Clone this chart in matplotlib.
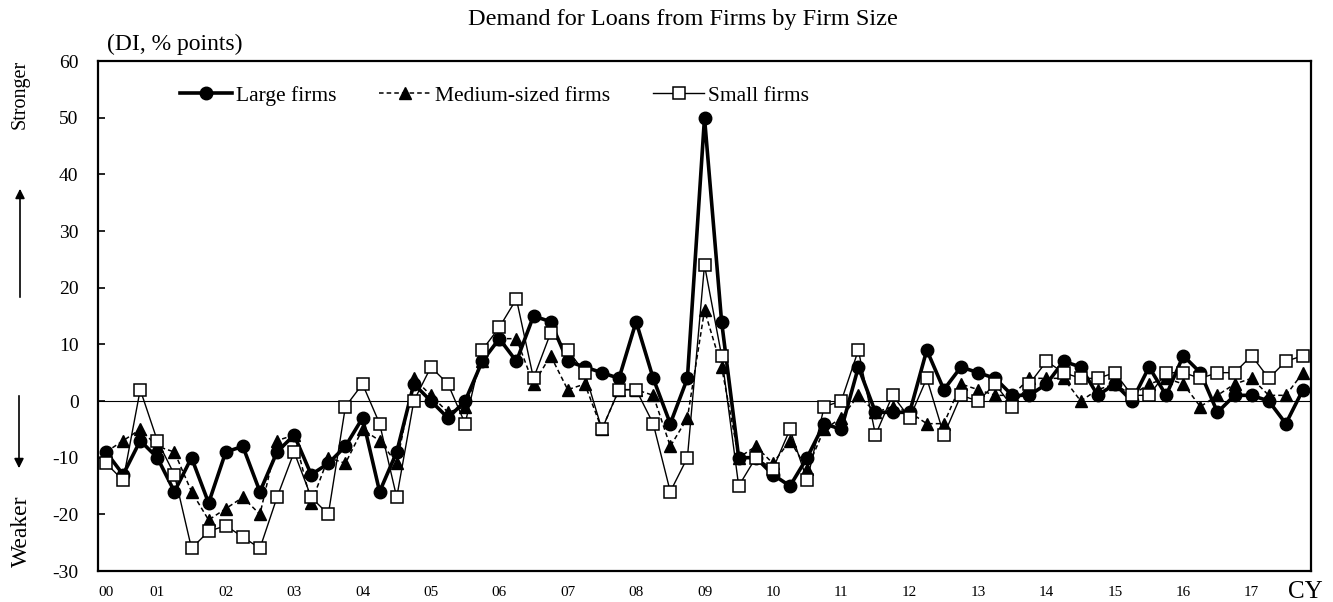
import matplotlib
matplotlib.use("Agg")
import matplotlib.pyplot as plt
import numpy as np

plt.rcParams['font.family'] = ['Liberation Serif', 'DejaVu Serif']
plt.rcParams['axes.unicode_minus'] = False

# ---- data (quarterly surveys, 2000 Apr .. 2017 Oct) ----
large = [-9, -13, -7, -10, -16, -10, -18, -9, -8, -16, -9, -6, -13, -11, -8, -3,
         -16, -9, 3, 0, -3, 0, 7, 11, 7, 15, 14, 7, 6, 5, 4, 14,
         4, -4, 4, 50, 14, -10, -10, -13, -15, -10, -4, -5, 6, -2,
         -2, -2, 9, 2, 6, 5, 4, 1, 1, 3, 7, 6, 1, 3, 0, 6,
         1, 8, 5, -2, 1, 1, 0, -4, 2]
medium = [-9, -7, -5, -8, -9, -16, -21, -19, -17, -20, -7, -6, -18, -10, -11, -5,
          -7, -11, 4, 1, -2, -1, 7, 11, 11, 3, 8, 2, 3, -5, 2, 2,
          1, -8, -3, 16, 6, -10, -8, -11, -7, -12, -5, -3, 1, -2,
          -1, -2, -4, -4, 3, 2, 1, 1, 4, 4, 4, 0, 2, 3, 1, 3,
          4, 3, -1, 1, 3, 4, 1, 1, 5]
small = [-11, -14, 2, -7, -13, -26, -23, -22, -24, -26, -17, -9, -17, -20, -1, 3,
         -4, -17, 0, 6, 3, -4, 9, 13, 18, 4, 12, 9, 5, -5, 2, 2,
         -4, -16, -10, 24, 8, -15, -10, -12, -5, -14, -1, 0, 9, -6,
         1, -3, 4, -6, 1, 0, 3, -1, 3, 7, 5, 4, 4, 5, 1, 1,
         5, 5, 4, 5, 5, 8, 4, 7, 8]
year_labels = ["00", "01", "02", "03", "04", "05", "06", "07", "08", "09",
               "10", "11", "12", "13", "14", "15", "16", "17"]
series_names = ["Large firms", "Medium-sized firms", "Small firms"]

W, H = 1333, 602
fig = plt.figure(figsize=(W / 100, H / 100), dpi=100)
ax = fig.add_axes([98 / W, 1 - 571 / H, (1311 - 98) / W, (571 - 61) / H])

x = np.arange(len(large))
ax.plot(x, large, color='black', lw=2.6, marker='o', ms=9,
        mfc='black', mec='black', label=series_names[0], zorder=3)
ax.plot(x, medium, color='black', lw=1.1, ls=(0, (3, 2)), marker='^', ms=8.5,
        mfc='black', mec='black', label=series_names[1], zorder=4)
ax.plot(x, small, color='black', lw=1.0, marker='s', ms=9,
        mfc='white', mec='black', mew=1.1, label=series_names[2], zorder=5)

ax.axhline(0, color='black', lw=0.8, zorder=2)

ax.set_xlim(-0.47, len(large) - 1 + 0.47)
ax.set_ylim(-30, 60)
ax.set_yticks(np.arange(-30, 61, 10))

# year labels at January surveys (first label at first point)
xt = [0] + [3 + 4 * k for k in range(len(year_labels) - 1)]
ax.set_xticks(xt)
ax.set_xticklabels(year_labels, fontsize=11)
ax.tick_params(axis='x', length=0, pad=11)
ax.tick_params(axis='y', direction='in', length=5, width=1.2, labelsize=14, pad=14)

for s in ax.spines.values():
    s.set_linewidth(1.6)

leg = ax.legend(loc='center left', bbox_to_anchor=(180 / W, 1 - 96 / H),
                bbox_transform=fig.transFigure, ncol=3, frameon=False,
                fontsize=15.5, handlelength=2.4, handletextpad=0.18,
                columnspacing=2.0, borderpad=0, borderaxespad=0)

fig.text(683 / W, 1 - 20 / H, "Demand for Loans from Firms by Firm Size",
         ha='center', va='center', fontsize=17.5)
fig.text(107 / W, 1 - 44 / H, "(DI, % points)", ha='left', va='center', fontsize=17)
fig.text(1305 / W, 1 - 592 / H, "CY", ha='center', va='center', fontsize=18)

fig.text(20 / W, 1 - 94 / H, "Stronger", rotation=90, ha='center', va='center', fontsize=14.5)
fig.text(21 / W, 1 - 531 / H, "Weaker", rotation=90, ha='center', va='center', fontsize=17)
ax.annotate("", xy=(20 / W, 1 - 186 / H), xytext=(20 / W, 1 - 300 / H),
            xycoords='figure fraction', textcoords='figure fraction',
            arrowprops=dict(arrowstyle='-|>', color='black', lw=1.2, mutation_scale=14))
ax.annotate("", xy=(19 / W, 1 - 471 / H), xytext=(19 / W, 1 - 393 / H),
            xycoords='figure fraction', textcoords='figure fraction',
            arrowprops=dict(arrowstyle='-|>', color='black', lw=1.2, mutation_scale=14))

fig.savefig("out.png", dpi=100)
